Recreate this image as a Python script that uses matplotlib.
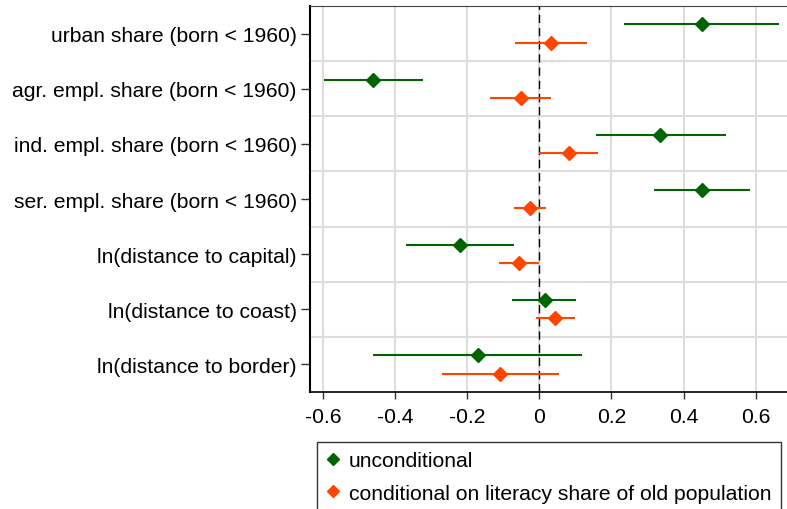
import matplotlib
matplotlib.use("Agg")
import matplotlib.pyplot as plt
import numpy as np

plt.rcParams['font.family'] = ['Liberation Sans', 'DejaVu Sans']

# data
variables = ["urban share (born < 1960)", "agr. empl. share (born < 1960)",
             "ind. empl. share (born < 1960)", "ser. empl. share (born < 1960)",
             "ln(distance to capital)", "ln(distance to coast)", "ln(distance to border)"]
uncond_coef = [0.450, -0.460, 0.335, 0.452, -0.219, 0.015, -0.170]
uncond_lo = [0.234, -0.596, 0.156, 0.317, -0.371, -0.075, -0.462]
uncond_hi = [0.666, -0.323, 0.517, 0.585, -0.071, 0.103, 0.119]
cond_coef = [0.032, -0.052, 0.081, -0.027, -0.057, 0.044, -0.109]
cond_lo = [-0.068, -0.136, -0.002, -0.071, -0.112, -0.009, -0.271]
cond_hi = [0.132, 0.032, 0.163, 0.019, -0.001, 0.098, 0.055]
xticks = [-0.6, -0.4, -0.2, 0, 0.2, 0.4, 0.6]
xticklabels = ["-0.6", "-0.4", "-0.2", "0", "0.2", "0.4", "0.6"]

green = "#006400"
orange = "#FF4500"
fs = 15.2

fig = plt.figure(figsize=(7.87, 5.10), dpi=100)
ax = fig.add_axes([310 / 787, 117 / 510, 477 / 787, 386 / 510])

pos = np.arange(1, len(variables) + 1)
off = 0.165

ax.hlines(pos - off, uncond_lo, uncond_hi, color=green, lw=1.5, zorder=3)
ax.plot(uncond_coef, pos - off, 'D', color=green, ms=7, zorder=4, label="unconditional")
ax.hlines(pos + off, cond_lo, cond_hi, color=orange, lw=1.5, zorder=3)
ax.plot(cond_coef, pos + off, 'D', color=orange, ms=7, zorder=4,
        label="conditional on literacy share of old population")

ax.axvline(0, color="black", lw=1, ls=(0, (6, 3.5)), zorder=2)

ax.set_xlim(-0.636, 0.687)
ax.set_ylim(len(variables) + 0.5, 0.5)
ax.set_xticks(xticks)
ax.set_xticklabels(xticklabels)
ax.set_yticks(pos)
ax.set_yticklabels(variables)
ax.set_yticks(np.arange(1.5, len(variables), 1), minor=True)
ax.tick_params(axis='y', which='minor', length=0)
ax.tick_params(axis='y', which='major', labelsize=fs, length=6.5, width=1,
               color="#333333", pad=3)
ax.tick_params(axis='x', which='major', labelsize=fs, length=5, width=1,
               color="#333333", pad=6)
ax.grid(axis='x', which='major', color="#DDDDDD", lw=1.5, zorder=0)
ax.grid(axis='y', which='minor', color="#DDDDDD", lw=1.5, zorder=0)

ax.spines['right'].set_visible(False)
ax.spines['left'].set_linewidth(1.5)
ax.spines['bottom'].set_linewidth(1.2)
ax.spines['top'].set_color("#444444")

leg = fig.legend(loc="upper left", bbox_to_anchor=(317 / 787, 1 - 443 / 510),
                 frameon=True, fancybox=False, edgecolor="black", fontsize=fs,
                 handlelength=0.6, handletextpad=0.45, borderpad=0.45, labelspacing=0.62,
                 borderaxespad=0, markerscale=0.85)
leg.get_frame().set_linewidth(1)

fig.savefig("out.png", dpi=100)
